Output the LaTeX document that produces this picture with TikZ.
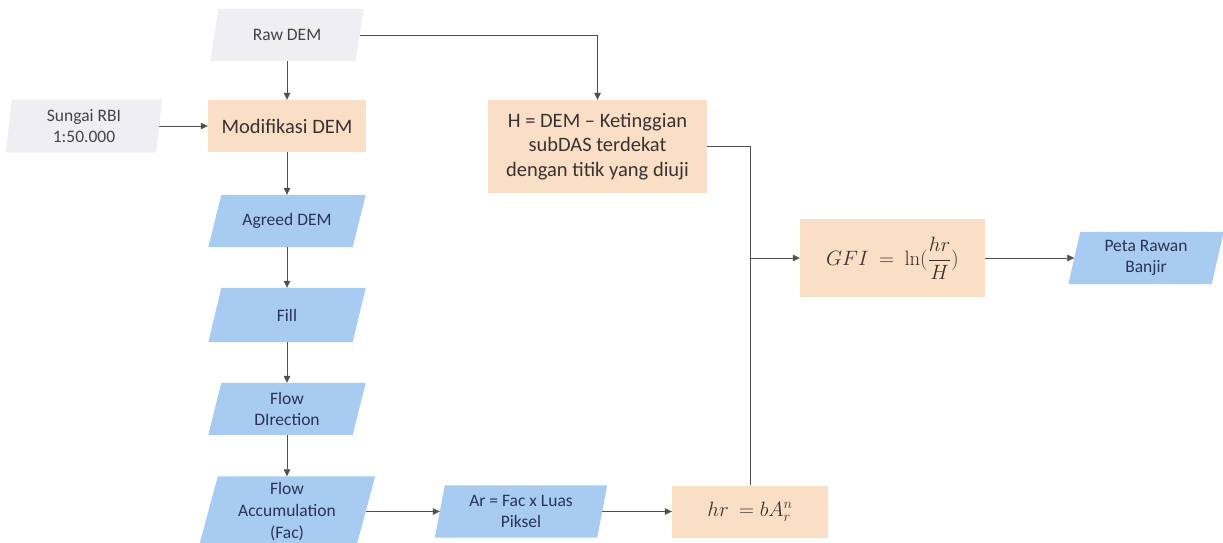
\documentclass[tikz,border=0pt]{standalone}
\usepackage[no-math]{fontspec}
\setmainfont{Carlito}
\usetikzlibrary{arrows.meta,backgrounds,calc}
\definecolor{grayfill}{HTML}{EFEEF2}
\definecolor{orangefill}{HTML}{FADFC6}
\definecolor{bluefill}{HTML}{A8CBF1}
\definecolor{bluetext}{HTML}{2A3456}
\definecolor{orangetext}{HTML}{3A3232}
\definecolor{graytext}{HTML}{444444}
\definecolor{linegray}{HTML}{505050}
\newcommand\paral[3]{\fill[#3] ([xshift=-#2/2]#1.south west) -- ([xshift=#2/2]#1.north west) -- ([xshift=#2/2]#1.north east) -- ([xshift=-#2/2]#1.south east) -- cycle;}
\tikzset{
  basebox/.style={inner sep=0pt, align=center},
  graybox/.style={basebox, text=graytext, font=\fontsize{17.5}{21.7}\selectfont},
  bluebox/.style={basebox, text=bluetext, font=\fontsize{17.5}{21.7}\selectfont},
  orangebox/.style={basebox, fill=orangefill, text=orangetext, font=\fontsize{20.5}{24.5}\selectfont},
  conn/.style={draw=linegray, line width=0.7pt},
  arr/.style={conn, -{Triangle[length=7pt,width=6.5pt]}},
}
\begin{document}
\begin{tikzpicture}[x=1pt,y=-1pt]
\useasboundingbox (0,0) rectangle (1223,543);
% nodes
\node[graybox, minimum width=145pt, minimum height=52pt] (raw) at (287,35) {Raw DEM};
\node[graybox, minimum width=150pt, minimum height=53pt] (sungai) at (84,126) {Sungai RBI\\1:50.000};
\node[orangebox, minimum width=158pt, minimum height=52pt] (mod) at (287,126) {Modifikasi DEM};
\node[bluebox, minimum width=144pt, minimum height=52pt] (agreed) at (287,221) {Agreed DEM};
\node[bluebox, minimum width=144pt, minimum height=54pt] (fillbox) at (287,315) {Fill};
\node[bluebox, minimum width=144pt, minimum height=52pt] (fdir) at (287,409) {Flow\\DIrection};
\node[bluebox, minimum width=157pt, minimum height=70pt] (facc) at (287,511.5) {Flow\\Accumulation\\(Fac)};
\node[bluebox, minimum width=162pt, minimum height=52pt] (ar) at (521,511.5) {Ar = Fac x Luas\\Piksel};
\node[orangebox, minimum width=156pt, minimum height=52pt] (hr) at (750,511.5) {$hr\ = bA_r^n$};
\node[orangebox, minimum width=219pt, minimum height=93pt] (H) at (597.5,146.5) {H = DEM – Ketinggian\\subDAS terdekat\\dengan titik yang diuji};
\node[orangebox, minimum width=185pt, minimum height=78pt] (gfi) at (892.5,258) {$GFI\ =\ \ln(\displaystyle\frac{hr}{H})$};
\node[bluebox, minimum width=143pt, minimum height=52pt] (peta) at (1146,258) {Peta Rawan\\Banjir};
% parallelogram shapes
\begin{scope}[on background layer]
\paral{raw}{8}{grayfill}
\paral{sungai}{6}{grayfill}
\paral{agreed}{13}{bluefill}
\paral{fillbox}{13}{bluefill}
\paral{fdir}{13}{bluefill}
\paral{facc}{19}{bluefill}
\paral{ar}{10}{bluefill}
\paral{peta}{12}{bluefill}
\end{scope}
% connectors
\draw[arr] (raw.south) -- (mod.north);
\draw[arr] (sungai.east) -- (mod.west);
\draw[arr] (raw.east) -| (H.north);
\draw[arr] (mod.south) -- (agreed.north);
\draw[arr] (agreed.south) -- (fillbox.north);
\draw[arr] (fillbox.south) -- (fdir.north);
\draw[arr] (fdir.south) -- (facc.north);
\draw[arr] (facc.east) -- (ar.west);
\draw[arr] (ar.east) -- (hr.west);
\draw[conn] (hr.north) |- (H.east);
\coordinate (jn) at (hr.north |- gfi.west);
\draw[arr] (jn) -- (gfi.west);
\draw[arr] (gfi.east) -- (peta.west);
\end{tikzpicture}
\end{document}
